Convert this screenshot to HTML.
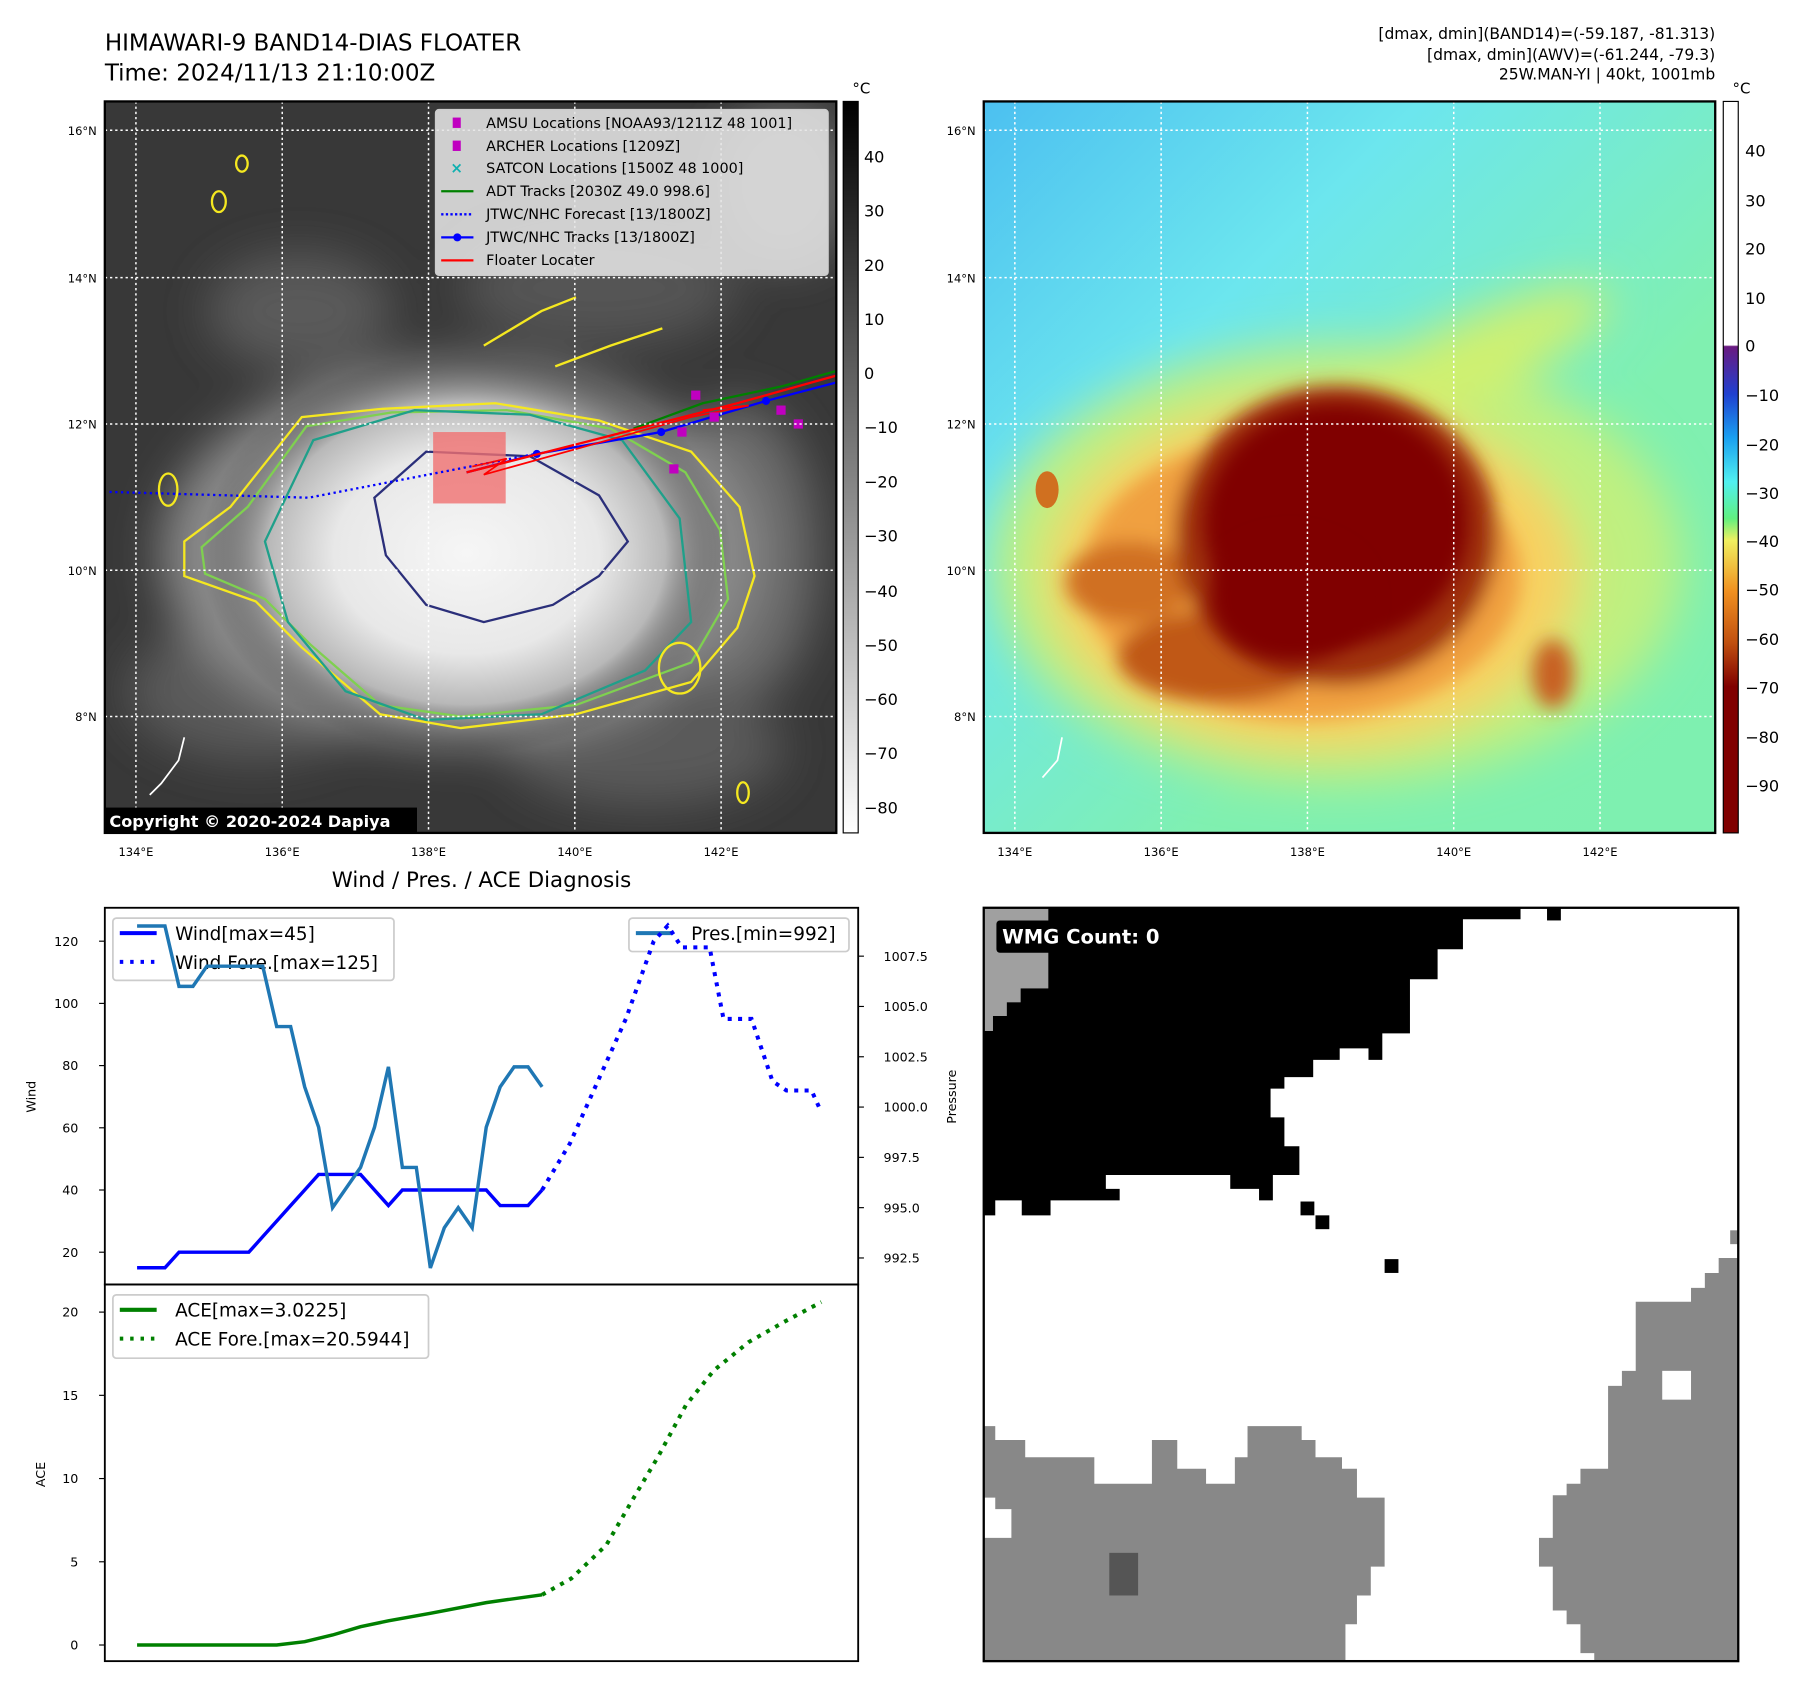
<!DOCTYPE html>
<html><head><meta charset="utf-8"><style>
html,body{margin:0;padding:0;background:#fff}
svg{display:block}
text{font-family:"DejaVu Sans","Liberation Sans",sans-serif}
</style></head><body>
<svg id="root" xmlns="http://www.w3.org/2000/svg" width="1797" height="1690" viewBox="0 0 1560 1467">
<defs>
  <filter id="blur8" x="-30%" y="-30%" width="160%" height="160%"><feGaussianBlur stdDeviation="8"/></filter>
  <filter id="blur20" x="-50%" y="-50%" width="200%" height="200%"><feGaussianBlur stdDeviation="20"/></filter>
  <radialGradient id="whiteBlob" cx="0.5" cy="0.5" r="0.5">
    <stop offset="0" stop-color="#f6f6f6"/><stop offset="0.5" stop-color="#e8e8e8"/>
    <stop offset="0.75" stop-color="#b8b8b8"/><stop offset="1" stop-color="#3a3a3a" stop-opacity="0"/>
  </radialGradient>
  <linearGradient id="bgRight" x1="0" y1="0" x2="1" y2="1">
    <stop offset="0" stop-color="#4cc0f0"/><stop offset="0.3" stop-color="#6ce6ee"/>
    <stop offset="0.65" stop-color="#80f0b0"/><stop offset="1" stop-color="#7ef0b0"/>
  </linearGradient>
  <linearGradient id="cbGray" x1="0" y1="0" x2="0" y2="1">
    <stop offset="0" stop-color="#000"/><stop offset="1" stop-color="#fff"/>
  </linearGradient>
  <linearGradient id="cbColor" x1="0" y1="0" x2="0" y2="1">
    <stop offset="0" stop-color="#fff"/><stop offset="0.333" stop-color="#fff"/>
    <stop offset="0.335" stop-color="#6a1a80"/><stop offset="0.40" stop-color="#2040d0"/>
    <stop offset="0.46" stop-color="#1aa0f0"/><stop offset="0.52" stop-color="#50f0f0"/>
    <stop offset="0.57" stop-color="#60f080"/><stop offset="0.60" stop-color="#f0f060"/>
    <stop offset="0.67" stop-color="#f09020"/><stop offset="0.74" stop-color="#c05010"/>
    <stop offset="0.80" stop-color="#800000"/><stop offset="1" stop-color="#800000"/>
  </linearGradient>
  <clipPath id="clipL"><rect x="91" y="88" width="635" height="635"/></clipPath>
  <clipPath id="clipR"><rect x="854" y="88" width="635" height="635"/></clipPath>
</defs>

<text x="91" y="44" font-size="20">HIMAWARI-9 BAND14-DIAS FLOATER</text>
<text x="91" y="70" font-size="20">Time: 2024/11/13 21:10:00Z</text>
<g font-size="13.5" text-anchor="end">
  <text x="1489" y="34">[dmax, dmin](BAND14)=(-59.187, -81.313)</text>
  <text x="1489" y="52">[dmax, dmin](AWV)=(-61.244, -79.3)</text>
  <text x="1489" y="69">25W.MAN-YI | 40kt, 1001mb</text>
</g>

<!-- LEFT MAP -->
<g clip-path="url(#clipL)">
  <rect x="91" y="88" width="635" height="635" fill="#383838"/>
  <g filter="url(#blur20)" fill="#5a5a5a">
    <ellipse cx="260" cy="270" rx="80" ry="50"/>
    <ellipse cx="520" cy="250" rx="120" ry="50" fill="#555"/>
    <ellipse cx="640" cy="480" rx="70" ry="130" fill="#6a6a6a"/>
    <ellipse cx="220" cy="600" rx="110" ry="60"/>
    <ellipse cx="560" cy="650" rx="120" ry="50"/>
    <ellipse cx="680" cy="160" rx="60" ry="70" fill="#666"/>
    <ellipse cx="400" cy="480" rx="260" ry="165" fill="#8a8a8a"/>
  </g>
  <ellipse cx="405" cy="480" rx="230" ry="175" fill="url(#whiteBlob)"/>
  <g fill="none" stroke-width="2">
    <path stroke="#f5e820" d="M160,470 L200,440 L262,362 L330,355 L430,350 L520,365 L600,392 L642,440 L655,500 L640,545 L600,592 L500,620 L400,632 L330,620 L262,562 L222,522 L160,500 Z"/>
    <path stroke="#7fd050" d="M175,475 L215,440 L266,370 L340,358 L440,356 L530,372 L595,410 L625,460 L632,520 L600,575 L500,612 L400,622 L330,612 L270,560 L230,520 L178,498 Z"/>
    <path stroke="#1fa08a" d="M230,470 L272,382 L360,356 L460,360 L540,382 L590,450 L600,540 L560,582 L470,620 L370,625 L300,600 L250,540 Z"/>
    <path stroke="#2b2f7a" d="M325,432 L370,392 L460,396 L520,430 L545,470 L520,500 L480,525 L420,540 L370,525 L335,482 Z"/>
    <path stroke="#f5e820" d="M482,318 L530,300 L575,285"/>
    <path stroke="#f5e820" d="M420,300 L470,270 L500,258"/>
    <ellipse cx="146" cy="425" rx="8" ry="14" stroke="#f5e820"/>
    <ellipse cx="190" cy="175" rx="6" ry="9" stroke="#f5e820"/>
    <ellipse cx="210" cy="142" rx="5" ry="7" stroke="#f5e820"/>
    <ellipse cx="645" cy="688" rx="5" ry="9" stroke="#f5e820"/>
    <ellipse cx="590" cy="580" rx="18" ry="22" stroke="#f5e820"/>
  </g>
  <rect x="376" y="375" width="63" height="62" fill="#f07070" opacity="0.8"/>
  <polyline points="95,427 268,432 470,393" fill="none" stroke="#0000ff" stroke-width="2" stroke-dasharray="2,3"/>
  <polyline points="405,410 466,394 574,375 665,348 726,332" fill="none" stroke="#0000ff" stroke-width="2"/>
  <g fill="#0000ff"><circle cx="466" cy="394" r="3.5"/><circle cx="574" cy="375" r="3.5"/><circle cx="665" cy="348" r="3.5"/></g>
  <polyline points="550,372 610,350 680,335 726,322" fill="none" stroke="#008000" stroke-width="2"/>
  <polyline points="405,410 640,350 726,326" fill="none" stroke="#ff0000" stroke-width="2"/>
  <polyline points="410,405 440,398 420,412 600,362 650,352 610,356" fill="none" stroke="#ff0000" stroke-width="1.5"/>
  <g fill="#c000c0">
    <rect x="600" y="339" width="8" height="8"/><rect x="588" y="371" width="8" height="8"/>
    <rect x="674" y="352" width="8" height="8"/><rect x="689" y="364" width="8" height="8"/>
    <rect x="581" y="403" width="8" height="8"/><rect x="616" y="358" width="8" height="8"/>
  </g>
  <g stroke="#fff" stroke-width="1.3" stroke-dasharray="2,2.5">
    <line x1="118" y1="88" x2="118" y2="723"/><line x1="245" y1="88" x2="245" y2="723"/>
    <line x1="372" y1="88" x2="372" y2="723"/><line x1="499" y1="88" x2="499" y2="723"/>
    <line x1="626" y1="88" x2="626" y2="723"/>
    <line x1="91" y1="113" x2="726" y2="113"/><line x1="91" y1="241" x2="726" y2="241"/>
    <line x1="91" y1="368" x2="726" y2="368"/><line x1="91" y1="495" x2="726" y2="495"/>
    <line x1="91" y1="622" x2="726" y2="622"/>
  </g>
  <path d="M160,640 L155,660 L140,680 L130,690" stroke="#fff" fill="none" stroke-width="1.5"/>
  <rect x="91" y="701" width="271" height="22" fill="#000"/>
  <text x="95" y="718" font-size="14" font-weight="bold" fill="#fff">Copyright © 2020-2024 Dapiya</text>
</g>
<rect x="91" y="88" width="635" height="635" fill="none" stroke="#000" stroke-width="2"/>

<g font-size="12.5">
  <rect x="378" y="95" width="341" height="144" rx="3" fill="#e4e4e4" fill-opacity="0.88" stroke="#ccc"/>
  <rect x="393" y="102" width="7" height="9" fill="#c000c0"/><text x="422" y="111">AMSU Locations [NOAA93/1211Z 48 1001]</text>
  <rect x="393" y="122" width="7" height="9" fill="#c000c0"/><text x="422" y="131">ARCHER Locations [1209Z]</text>
  <text x="391" y="150" fill="#10b0b0" font-weight="bold" font-size="13">×</text><text x="422" y="150">SATCON Locations [1500Z 48 1000]</text>
  <line x1="383" y1="166" x2="411" y2="166" stroke="#008000" stroke-width="2"/><text x="422" y="170">ADT Tracks [2030Z 49.0 998.6]</text>
  <line x1="383" y1="186" x2="411" y2="186" stroke="#0000ff" stroke-width="2" stroke-dasharray="2,2"/><text x="422" y="190">JTWC/NHC Forecast [13/1800Z]</text>
  <line x1="383" y1="206" x2="411" y2="206" stroke="#0000ff" stroke-width="2"/><circle cx="397" cy="206" r="3.5" fill="#0000ff"/><text x="422" y="210">JTWC/NHC Tracks [13/1800Z]</text>
  <line x1="383" y1="226" x2="411" y2="226" stroke="#ff0000" stroke-width="2"/><text x="422" y="230">Floater Locater</text>
</g>

<g font-size="14">
  <rect x="732" y="88" width="13" height="635" fill="url(#cbGray)" stroke="#000" stroke-width="1"/>
  <text x="740" y="81" font-size="13">°C</text>
  <text x="750" y="141">40</text><text x="750" y="188">30</text><text x="750" y="235">20</text>
  <text x="750" y="282">10</text><text x="750" y="329">0</text><text x="750" y="376">−10</text>
  <text x="750" y="423">−20</text><text x="750" y="470">−30</text><text x="750" y="518">−40</text>
  <text x="750" y="565">−50</text><text x="750" y="612">−60</text><text x="750" y="659">−70</text>
  <text x="750" y="706">−80</text>
</g>

<!-- RIGHT MAP -->
<g clip-path="url(#clipR)">
  <rect x="854" y="88" width="635" height="635" fill="url(#bgRight)"/>
  <g filter="url(#blur20)">
    <ellipse cx="1160" cy="490" rx="300" ry="190" fill="#bff080"/>
    <ellipse cx="1260" cy="320" rx="150" ry="35" fill="#d0f070" transform="rotate(-25 1260 320)"/>
    <ellipse cx="1140" cy="500" rx="230" ry="150" fill="#f8d060"/>
  </g>
  <g filter="url(#blur8)">
    <ellipse cx="1130" cy="500" rx="190" ry="125" fill="#f0a040"/>
    <ellipse cx="980" cy="505" rx="55" ry="35" fill="#d07020"/>
    <ellipse cx="1060" cy="570" rx="90" ry="40" fill="#c05818"/>
    <ellipse cx="1348" cy="585" rx="18" ry="30" fill="#c86020"/>
    <ellipse cx="1160" cy="465" rx="140" ry="130" fill="#a03008"/>
  </g>
  <ellipse cx="1160" cy="455" rx="115" ry="105" fill="#800000" filter="url(#blur8)"/>
  <ellipse cx="1120" cy="520" rx="70" ry="55" fill="#800000" filter="url(#blur8)"/>
  <ellipse cx="909" cy="425" rx="10" ry="16" fill="#d07020"/>
  <g stroke="#fff" stroke-width="1.3" stroke-dasharray="2,2.5">
    <line x1="881" y1="88" x2="881" y2="723"/><line x1="1008" y1="88" x2="1008" y2="723"/>
    <line x1="1135" y1="88" x2="1135" y2="723"/><line x1="1262" y1="88" x2="1262" y2="723"/>
    <line x1="1389" y1="88" x2="1389" y2="723"/>
    <line x1="854" y1="113" x2="1489" y2="113"/><line x1="854" y1="241" x2="1489" y2="241"/>
    <line x1="854" y1="368" x2="1489" y2="368"/><line x1="854" y1="495" x2="1489" y2="495"/>
    <line x1="854" y1="622" x2="1489" y2="622"/>
  </g>
  <path d="M922,640 L918,660 L905,675" stroke="#fff" fill="none" stroke-width="1.5"/>
</g>
<rect x="854" y="88" width="635" height="635" fill="none" stroke="#000" stroke-width="2"/>

<g font-size="14">
  <rect x="1496" y="88" width="13" height="635" fill="url(#cbColor)" stroke="#000" stroke-width="1"/>
  <text x="1504" y="81" font-size="13">°C</text>
  <text x="1515" y="136">40</text><text x="1515" y="179">30</text><text x="1515" y="221">20</text>
  <text x="1515" y="264">10</text><text x="1515" y="305">0</text><text x="1515" y="348">−10</text>
  <text x="1515" y="391">−20</text><text x="1515" y="433">−30</text><text x="1515" y="475">−40</text>
  <text x="1515" y="517">−50</text><text x="1515" y="560">−60</text><text x="1515" y="602">−70</text>
  <text x="1515" y="645">−80</text><text x="1515" y="687">−90</text>
</g>

<g font-size="10" text-anchor="middle">
  <text x="118" y="743">134°E</text><text x="245" y="743">136°E</text><text x="372" y="743">138°E</text><text x="499" y="743">140°E</text><text x="626" y="743">142°E</text>
  <text x="881" y="743">134°E</text><text x="1008" y="743">136°E</text><text x="1135" y="743">138°E</text><text x="1262" y="743">140°E</text><text x="1389" y="743">142°E</text>
  <g text-anchor="end">
    <text x="84" y="117">16°N</text><text x="84" y="245">14°N</text><text x="84" y="372">12°N</text><text x="84" y="499">10°N</text><text x="84" y="626">8°N</text>
    <text x="847" y="117">16°N</text><text x="847" y="245">14°N</text><text x="847" y="372">12°N</text><text x="847" y="499">10°N</text><text x="847" y="626">8°N</text>
  </g>
</g>

<!-- WMG panel -->
<g>
  <rect x="854" y="788" width="655" height="654" fill="#fff"/>
  <path fill="#a0a0a0" d="M854,788 L910,788 L910,858 L886,858 L886,870 L874,870 L874,882 L862,882 L862,895 L854,895 Z"/>
  <path fill="#000" d="M910,788 L1320,788 L1320,798 L1270,798 L1270,824 L1248,824 L1248,850 L1224,850 L1224,897 L1200,897 L1200,920 L1188,920 L1188,910 L1163,910 L1163,920 L1140,920 L1140,935 L1115,935 L1115,945 L1103,945 L1103,970 L1115,970 L1115,995 L1128,995 L1128,1020 L1105,1020 L1105,1042 L1093,1042 L1093,1032 L1068,1032 L1068,1020 L960,1020 L960,1032 L972,1032 L972,1042 L912,1042 L912,1055 L887,1055 L887,1042 L864,1042 L864,1055 L854,1055 L854,895 L862,895 L862,882 L874,882 L874,870 L886,870 L886,858 L910,858 Z"/>
  <rect x="1343" y="788" width="12" height="11" fill="#000"/>
  <rect x="1129" y="1043" width="12" height="12" fill="#000"/>
  <rect x="1142" y="1055" width="12" height="12" fill="#000"/>
  <rect x="1202" y="1093" width="12" height="12" fill="#000"/>
  <path fill="#888" d="M854,1238 L864,1238 L864,1250 L890,1250 L890,1265 L950,1265 L950,1288 L1000,1288 L1000,1250 L1022,1250 L1022,1275 L1047,1275 L1047,1288 L1072,1288 L1072,1265 L1083,1265 L1083,1238 L1130,1238 L1130,1250 L1142,1250 L1142,1265 L1165,1265 L1165,1275 L1178,1275 L1178,1300 L1202,1300 L1202,1360 L1190,1360 L1190,1385 L1178,1385 L1178,1410 L1168,1410 L1168,1442 L854,1442 L854,1335 L878,1335 L878,1310 L864,1310 L864,1300 L854,1300 Z"/>
  <rect x="963" y="1348" width="25" height="37" fill="#555"/>
  <path fill="#888" d="M1509,1092 L1492,1092 L1492,1105 L1480,1105 L1480,1118 L1468,1118 L1468,1130 L1420,1130 L1420,1190 L1408,1190 L1408,1203 L1396,1203 L1396,1275 L1372,1275 L1372,1288 L1360,1288 L1360,1298 L1348,1298 L1348,1335 L1336,1335 L1336,1360 L1348,1360 L1348,1398 L1360,1398 L1360,1410 L1372,1410 L1372,1435 L1384,1435 L1384,1442 L1509,1442 Z"/>
  <rect x="1443" y="1190" width="25" height="25" fill="#fff"/>
  <rect x="1502" y="1068" width="7" height="12" fill="#888"/>
  <rect x="865" y="799" width="158" height="28" rx="3" fill="#000"/>
  <text x="870" y="819" font-size="17" font-weight="bold" fill="#fff">WMG Count: 0</text>
  <rect x="854" y="788" width="655" height="654" fill="none" stroke="#000" stroke-width="2"/>
</g>

<text x="418" y="770" font-size="18.5" text-anchor="middle">Wind / Pres. / ACE Diagnosis</text>
<g id="chart"></g>
</svg>

<script>
const windIdx = [0,1,2,3,4,5,6,7,8,9,10,11,12,13,14,15,16,17,18,19,20,21,22,23,24,25,26,27,28,29];
const windObs = [15,15,15,20,20,20,20,20,20,25,30,35,40,45,45,45,45,40,35,40,40,40,40,40,40,40,35,35,35,40];
const presObs = [1009,1009,1009,1006,1006,1007,1007,1007,1007,1007,1004,1004,1001,999,995,996,997,999,1002,997,997,992,994,995,994,999,1001,1002,1002,1001];
const foreIdx = [29,31,33,35,37,38,39,41,42,44,45.5,46.5,48.3,49];
const windFore = [40,55,75,95,120,125,118,118,95,95,75,72,72,65];
const aceIdx = [0,10,12,14,16,18,21,25,29];
const aceObs = [0,0,0.2,0.6,1.1,1.45,1.9,2.55,3.02];
const aceForeIdx = [29,31.1,33.6,35.6,37.3,39.3,41.3,43.8,46.3,49];
const aceFore = [3.02,4,6,8.9,11.3,14.4,16.5,18.2,19.4,20.6];
const windTicks = [20,40,60,80,100,120];
const presTicks = [992.5,995.0,997.5,1000.0,1002.5,1005.0,1007.5];
const aceTicks = [0,5,10,15,20];

const NS='http://www.w3.org/2000/svg';
const g=document.getElementById('chart');
const X=i=>119+(713-119)*i/49;
const YW=v=>1087+(v-20)*(817-1087)/100;
const YP=v=>1092+(v-992.5)*(830-1092)/15;
const YA=v=>1428+v*(1139-1428)/20;
function mk(tag,attrs,parent){const e=document.createElementNS(NS,tag);for(const k in attrs)e.setAttribute(k,attrs[k]);(parent||g).appendChild(e);return e;}
function pts(xs,ys,fy){return xs.map((x,i)=>X(x).toFixed(1)+','+fy(ys[i]).toFixed(1)).join(' ');}

let f1=mk('rect',{x:91,y:788,width:654,height:327,fill:'none',stroke:'#000','stroke-width':1.6});


let f2=mk('rect',{x:91,y:1115,width:654,height:327,fill:'none',stroke:'#000','stroke-width':1.6});



windTicks.forEach(v=>{const y=YW(v);mk('line',{x1:86,x2:91,y1:y,y2:y,stroke:'#000'});
 const t=mk('text',{x:68,y:y+4,'font-size':11,'text-anchor':'end'});t.textContent=v;
 
 });
presTicks.forEach(v=>{const y=YP(v);mk('line',{x1:745,x2:750,y1:y,y2:y,stroke:'#000'});
 const t=mk('text',{x:767,y:y+4,'font-size':11});t.textContent=v.toFixed(1);
 
 });
aceTicks.forEach(v=>{const y=YA(v);mk('line',{x1:86,x2:91,y1:y,y2:y,stroke:'#000'});
 const t=mk('text',{x:68,y:y+4,'font-size':11,'text-anchor':'end'});t.textContent=v;
 
 });
let yl=mk('text',{x:0,y:0,'font-size':11,'text-anchor':'middle',transform:'translate(31,952) rotate(-90)'});yl.textContent='Wind';


let pl=mk('text',{x:0,y:0,'font-size':11,'text-anchor':'middle',transform:'translate(830,952) rotate(-90)'});pl.textContent='Pressure';


let al=mk('text',{x:0,y:0,'font-size':11,'text-anchor':'middle',transform:'translate(39,1280) rotate(-90)'});al.textContent='ACE';



function legend(x,y,w,h,items,name){const lg=mk('g',{});
 
 
 mk('rect',{x,y,width:w,height:h,rx:3,fill:'#fff','fill-opacity':0.85,stroke:'#ccc','stroke-width':1.5},lg);
 items.forEach((it,k)=>{const yy=y+13+k*25;
  mk('line',{x1:x+6,x2:x+38,y1:yy,y2:yy,stroke:it.c,'stroke-width':3.5,'stroke-dasharray':it.d?'3,6':'none'},lg);
  const t=mk('text',{x:x+54,y:yy+6,'font-size':16},lg);t.textContent=it.t;});}
legend(98,797,244,54,[{c:'#0000ff',t:'Wind[max=45]'},{c:'#0000ff',d:1,t:'Wind Fore.[max=125]'}],'wind-legend');
legend(546,797,191,29,[{c:'#1f77b4',t:'Pres.[min=992]'}],'pressure-legend');
legend(98,1124,274,55,[{c:'#008000',t:'ACE[max=3.0225]'},{c:'#008000',d:1,t:'ACE Fore.[max=20.5944]'}],'ace-legend');

let w=mk('polyline',{points:pts(windIdx,windObs,YW),fill:'none',stroke:'#0000ff','stroke-width':3});


let wf=mk('polyline',{points:pts(foreIdx,windFore,YW),fill:'none',stroke:'#0000ff','stroke-width':3.5,'stroke-dasharray':'3.5,5.5'});


let p=mk('polyline',{points:pts(windIdx,presObs,YP),fill:'none',stroke:'#1f77b4','stroke-width':3});


let a=mk('polyline',{points:pts(aceIdx,aceObs,YA),fill:'none',stroke:'#008000','stroke-width':3});


let af=mk('polyline',{points:pts(aceForeIdx,aceFore,YA),fill:'none',stroke:'#008000','stroke-width':3.5,'stroke-dasharray':'3.5,5.5'});


</script>
</body></html>
